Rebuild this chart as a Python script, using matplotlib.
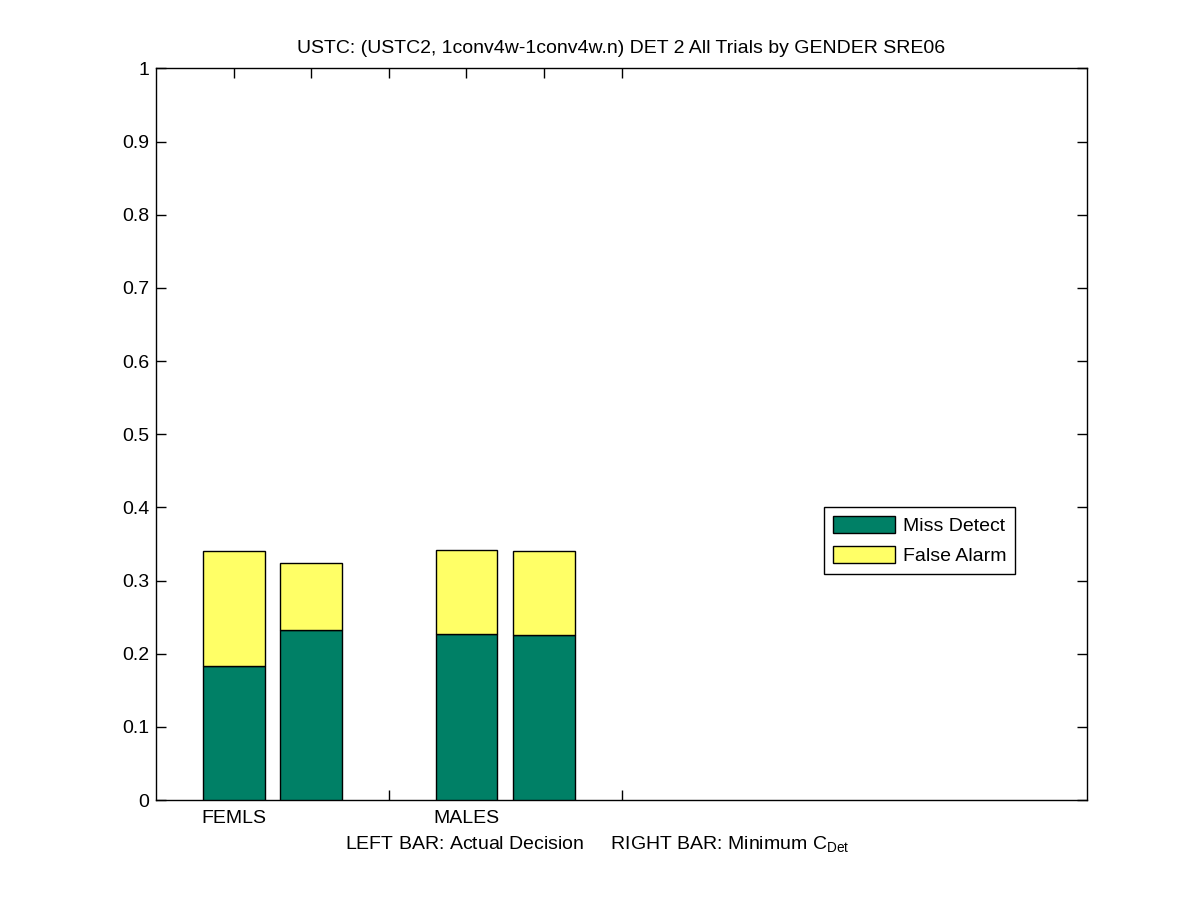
import numpy as np
import matplotlib.pyplot as plt

groups = ['FEMLS', 'MALES']
# left bar: actual decision, right bar: minimum C_Det
miss_actual = [0.183, 0.227]
fa_actual = [0.157, 0.115]
miss_min = [0.232, 0.225]
fa_min = [0.092, 0.115]

green = '#008066'
yellow = '#FFFF66'

plt.rcParams['font.family'] = ['Liberation Sans', 'DejaVu Sans']
plt.rcParams['font.size'] = 14
plt.rcParams['mathtext.fontset'] = 'custom'
plt.rcParams['mathtext.rm'] = 'Liberation Sans'

fig = plt.figure(figsize=(12.01, 9), dpi=100)
ax = fig.add_axes([0.13, 0.111, 0.775, 0.813])

g = np.arange(len(groups))
xl = g + 1/3
xr = g + 2/3
w = 0.265

ax.bar(xl, miss_actual, w, color=green, edgecolor='black', linewidth=1, label='Miss Detect', zorder=3)
ax.bar(xl, fa_actual, w, bottom=miss_actual, color=yellow, edgecolor='black', linewidth=1, label='False Alarm', zorder=3)
ax.bar(xr, miss_min, w, color=green, edgecolor='black', linewidth=1, zorder=3)
ax.bar(xr, fa_min, w, bottom=miss_min, color=yellow, edgecolor='black', linewidth=1, zorder=3)

ax.set_xlim(0, 4)
ax.set_ylim(0, 1)
ax.set_yticks(np.arange(0, 1.01, 0.1))
ax.set_yticklabels(['0', '0.1', '0.2', '0.3', '0.4', '0.5', '0.6', '0.7', '0.8', '0.9', '1'])
ax.set_xticks(np.arange(1, 7) / 3)
ax.set_xticklabels(['FEMLS', '', '', 'MALES', '', ''])
ax.tick_params(direction='in', length=7, top=True, right=True, width=1)
ax.tick_params(axis='x', pad=7)
ax.tick_params(axis='y', pad=5)
for s in ax.spines.values():
    s.set_linewidth(1)

ax.set_title('USTC: (USTC2, 1conv4w-1conv4w.n) DET 2 All Trials by GENDER SRE06', fontsize=14, pad=11)
fig.text(597/1201, 1 - 845/900, r'LEFT BAR: Actual Decision     RIGHT BAR: Minimum C$_{\rm Det}$',
         ha='center', va='center', fontsize=14)

leg = ax.legend(loc='lower left', bbox_to_anchor=(0.7175, 0.309), fancybox=False,
                edgecolor='black', framealpha=1, handlelength=3.2, handleheight=1.0,
                borderpad=0.45, labelspacing=0.55, handletextpad=0.4,
                borderaxespad=0, fontsize=14)
leg.get_frame().set_linewidth(1)

fig.savefig('out.png', dpi=100)
